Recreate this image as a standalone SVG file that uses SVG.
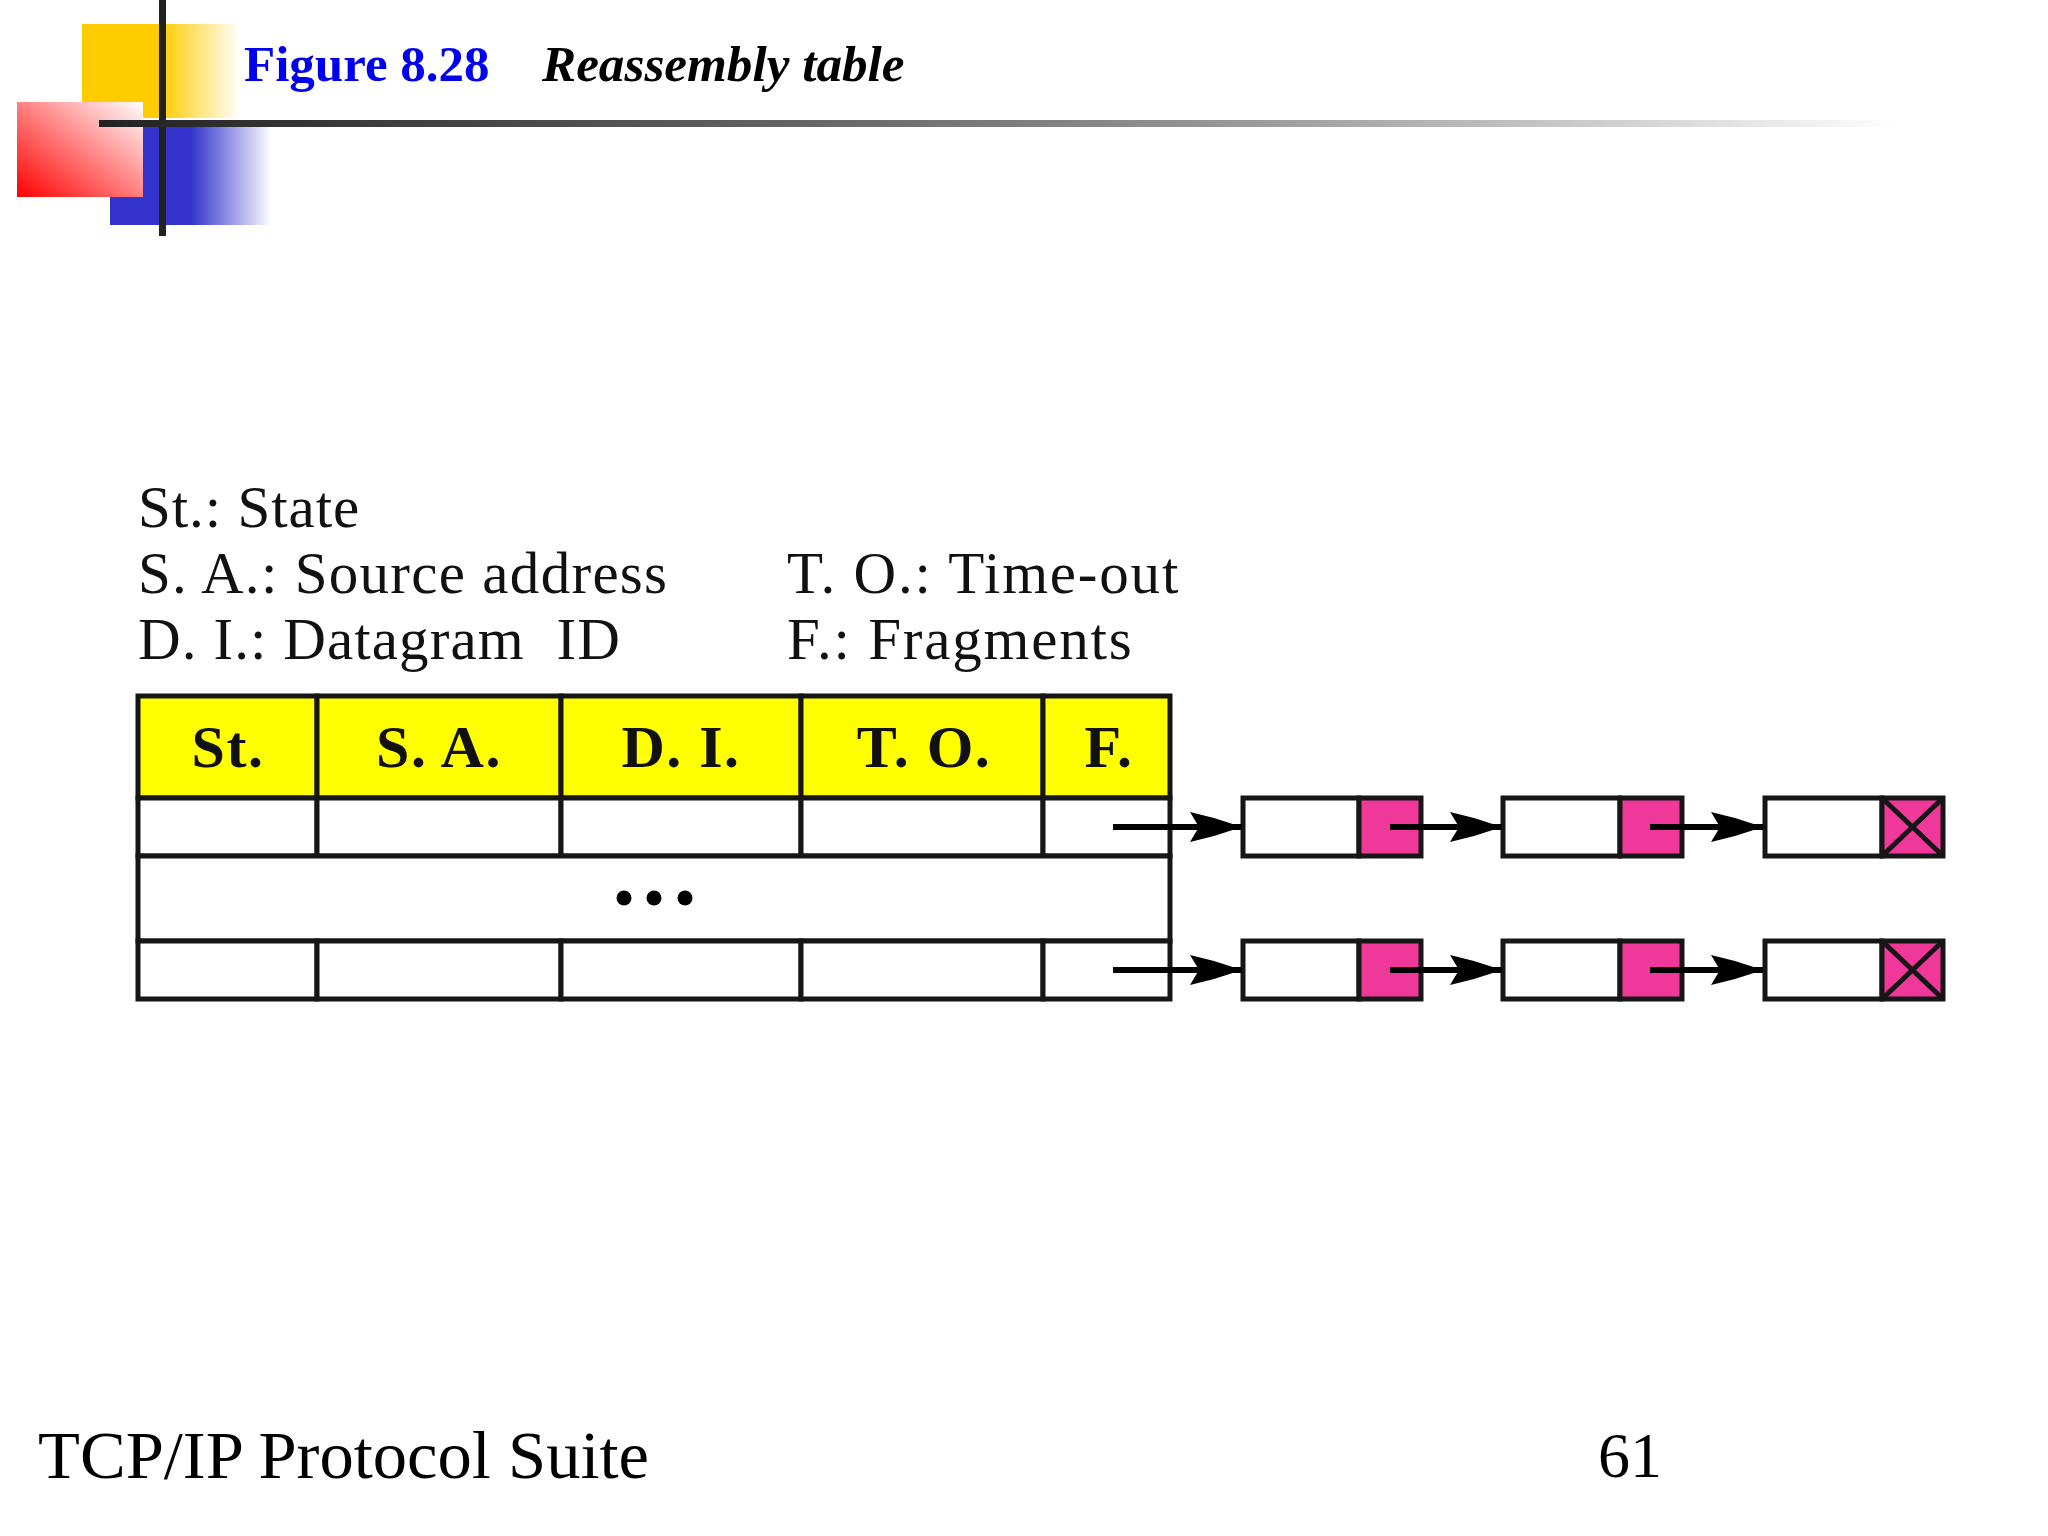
<svg xmlns="http://www.w3.org/2000/svg" width="2048" height="1536" viewBox="0 0 2048 1536">
<style>
text{font-family:"Liberation Serif","Times New Roman",serif;fill:#000}
.leg{font-size:59px;fill:#111;white-space:pre}
.hd{font-size:60px;font-weight:bold;text-anchor:middle;fill:#111;letter-spacing:1.5px}
.cell{fill:#fff;stroke:#161616;stroke-width:5}
.head{fill:#ffff00;stroke:#161616;stroke-width:5}
.pink{fill:#f0389a;stroke:#161616;stroke-width:5}
.x{stroke:#161616;stroke-width:5;fill:none}
.arrow{stroke:#000;stroke-width:6;fill:none;marker-end:url(#ah)}
</style>
<defs>
<marker id="ah" markerUnits="userSpaceOnUse" markerWidth="54" markerHeight="36" refX="52" refY="18" orient="auto"><path d="M0 3L24 9L52 18L24 27L0 33L9 18Z" fill="#000"/></marker>
<linearGradient id="gy" x1="0" x2="1" y1="0" y2="0"><stop offset="0" stop-color="#ffcc00"/><stop offset=".5" stop-color="#ffcc00"/><stop offset="1" stop-color="#ffcc00" stop-opacity="0"/></linearGradient>
<linearGradient id="gb" x1="0" x2="1" y1="0" y2="0"><stop offset="0" stop-color="#3333cc"/><stop offset=".5" stop-color="#3333cc"/><stop offset="1" stop-color="#3333cc" stop-opacity="0"/></linearGradient>
<linearGradient id="gr" x1="0" x2="1" y1="1" y2="0"><stop offset="0" stop-color="#ff0000"/><stop offset="1" stop-color="#ffffff"/></linearGradient>
<linearGradient id="gl" x1="0" x2="1" y1="0" y2="0"><stop offset="0" stop-color="#222"/><stop offset=".3" stop-color="#555"/><stop offset="1" stop-color="#222" stop-opacity="0"/></linearGradient>
</defs>
<rect width="2048" height="1536" fill="#fff"/>
<g id="decoration">
<rect x="82" y="24" width="158" height="94" fill="url(#gy)"/>
<rect x="110" y="124" width="162" height="101" fill="url(#gb)"/>
<rect x="17" y="102" width="126" height="95" fill="url(#gr)"/>
<rect x="159" y="0" width="7" height="236" fill="#222"/>
<rect x="99" y="120" width="1800" height="7" fill="url(#gl)"/>
</g>
<g id="title">
<text x="244" y="81" font-size="51" font-weight="bold" style="fill:#0000ee">Figure 8.28</text>
<text x="542" y="81" font-size="51.2" font-weight="bold" font-style="italic">Reassembly table</text>
</g>
<g id="legend">
<text class="leg" x="138" y="527" style="letter-spacing:.9px">St.: State</text>
<text class="leg" x="138" y="593" style="letter-spacing:1.3px">S. A.: Source address</text>
<text class="leg" x="138" y="659" style="letter-spacing:1.1px">D. I.: Datagram  ID</text>
<text class="leg" x="787" y="593" style="letter-spacing:1.8px">T. O.: Time-out</text>
<text class="leg" x="787" y="659" style="letter-spacing:1.8px">F.: Fragments</text>
</g>
<g id="table">
<g id="header">
<rect class="head" x="138" y="696" width="179" height="102"/><rect class="head" x="317" y="696" width="244" height="102"/><rect class="head" x="561" y="696" width="240" height="102"/><rect class="head" x="801" y="696" width="242" height="102"/><rect class="head" x="1043" y="696" width="127" height="102"/>
<text class="hd" x="228" y="767">St.</text><text class="hd" x="439" y="767">S. A.</text><text class="hd" x="681" y="767">D. I.</text><text class="hd" x="924" y="767">T. O.</text><text class="hd" x="1109" y="767">F.</text>
</g>
<g id="row1">
<rect class="cell" x="138" y="798" width="179" height="58"/><rect class="cell" x="317" y="798" width="244" height="58"/><rect class="cell" x="561" y="798" width="240" height="58"/><rect class="cell" x="801" y="798" width="242" height="58"/><rect class="cell" x="1043" y="798" width="127" height="58"/>
</g>
<g id="ellipsis">
<rect class="cell" x="138" y="856" width="1032" height="85"/>
<circle cx="624" cy="898" r="7.5"/><circle cx="654" cy="898" r="7.5"/><circle cx="685" cy="898" r="7.5"/>
</g>
<g id="row2">
<rect class="cell" x="138" y="941" width="179" height="58"/><rect class="cell" x="317" y="941" width="244" height="58"/><rect class="cell" x="561" y="941" width="240" height="58"/><rect class="cell" x="801" y="941" width="242" height="58"/><rect class="cell" x="1043" y="941" width="127" height="58"/>
</g>
</g>
<g id="list1-node1"><rect class="cell" x="1243" y="798" width="116" height="58"/><rect class="pink" x="1359" y="798" width="62" height="58"/></g>
<g id="list1-node2"><rect class="cell" x="1503" y="798" width="117" height="58"/><rect class="pink" x="1620" y="798" width="62" height="58"/></g>
<g id="list1-node3"><rect class="cell" x="1765" y="798" width="117" height="58"/><rect class="pink" x="1882" y="798" width="61" height="58"/><path class="x" d="M1882 798L1943 856M1943 798L1882 856"/></g>
<g id="list2-node1"><rect class="cell" x="1243" y="941" width="116" height="58"/><rect class="pink" x="1359" y="941" width="62" height="58"/></g>
<g id="list2-node2"><rect class="cell" x="1503" y="941" width="117" height="58"/><rect class="pink" x="1620" y="941" width="62" height="58"/></g>
<g id="list2-node3"><rect class="cell" x="1765" y="941" width="117" height="58"/><rect class="pink" x="1882" y="941" width="61" height="58"/><path class="x" d="M1882 941L1943 999M1943 941L1882 999"/></g>
<g id="connectors">
<path class="arrow" d="M1113 827H1242"/><path class="arrow" d="M1390 827H1502"/><path class="arrow" d="M1650 827H1763"/>
<path class="arrow" d="M1113 970H1242"/><path class="arrow" d="M1390 970H1502"/><path class="arrow" d="M1650 970H1763"/>
</g>
<g id="footer">
<text x="38" y="1478" font-size="68.6">TCP/IP Protocol Suite</text>
<text x="1598" y="1477" font-size="64">61</text>
</g>
</svg>
